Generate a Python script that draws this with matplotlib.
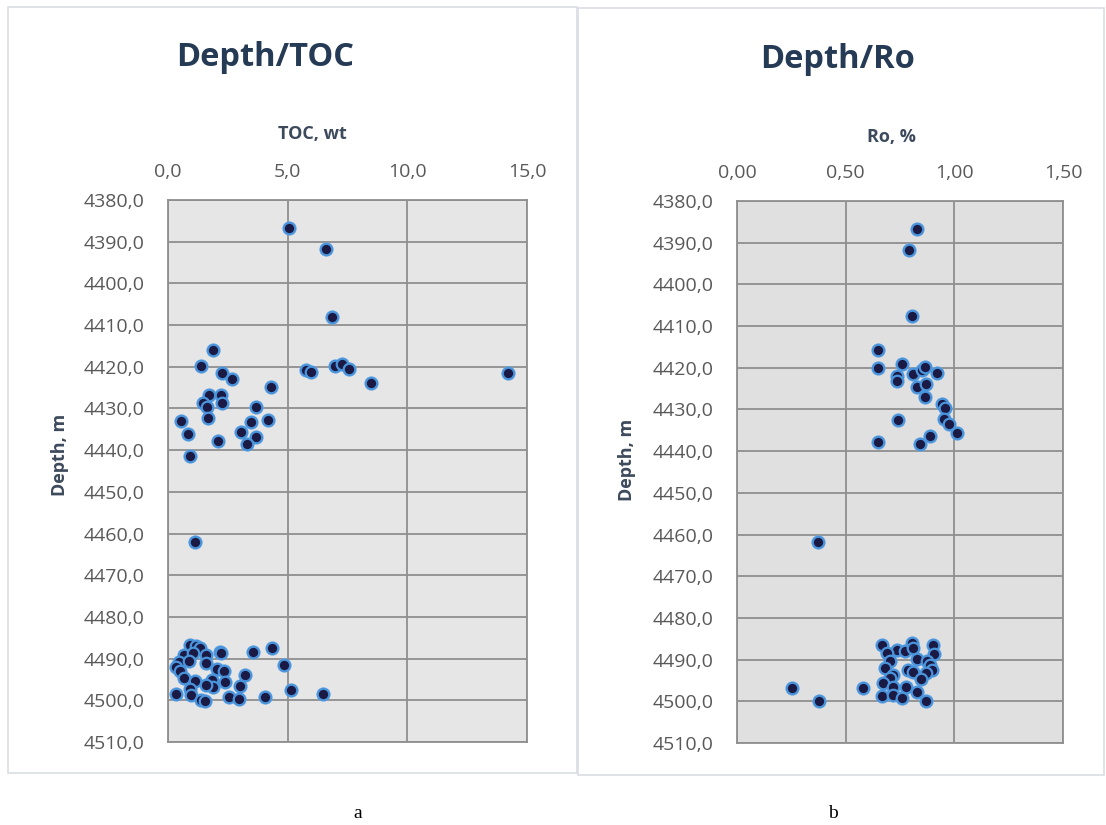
import matplotlib
matplotlib.use("Agg")
import matplotlib.pyplot as plt
from matplotlib.patches import Rectangle
from matplotlib.ticker import FuncFormatter, MultipleLocator

# ---- data ----
toc_values = [5.04, 6.60, 6.87, 1.88, 1.39, 2.24, 2.67, 4.29, 5.78, 5.96, 6.96, 7.28, 7.56, 8.47, 14.2,
              1.71, 2.20, 1.46, 1.63, 2.26, 3.69, 1.67, 0.53, 4.18, 3.48, 0.82, 3.04, 3.66, 2.09, 3.32,
              0.92, 1.12,
              0.93, 1.16, 1.32, 2.16, 2.20, 3.55, 4.36, 0.66, 1.05, 1.60, 0.45, 0.88, 1.57, 4.83, 0.35,
              0.52, 2.05, 2.33, 3.20, 0.66, 1.12, 1.85, 2.37, 3.00, 1.88, 0.93, 1.60, 5.15, 6.47, 0.35,
              0.98, 2.55, 2.95, 4.04, 1.39, 1.56]
toc_depth = [4386.8, 4391.8, 4408.0, 4416.0, 4419.8, 4421.6, 4423.0, 4424.8, 4420.8, 4421.2, 4419.8,
             4419.3, 4420.5, 4423.8, 4421.4,
             4426.8, 4426.8, 4428.8, 4429.7, 4428.8, 4429.7, 4432.4, 4433.0, 4432.8, 4433.3, 4436.1,
             4435.7, 4436.8, 4437.8, 4438.5,
             4441.4, 4462.0,
             4486.7, 4486.9, 4487.5, 4488.3, 4488.7, 4488.3, 4487.4, 4489.1, 4488.7, 4489.1, 4490.7,
             4490.5, 4491.1, 4491.5, 4491.9, 4492.9, 4492.5, 4492.9, 4493.9, 4494.7, 4495.3, 4495.1,
             4495.5, 4496.5, 4496.9, 4497.3, 4496.3, 4497.5, 4498.5, 4498.5, 4498.7, 4499.1, 4499.7,
             4499.1, 4500.0, 4500.2]

ro_values = [0.829, 0.792, 0.807, 0.649, 0.649, 0.757, 0.737, 0.737, 0.810, 0.849, 0.867, 0.921,
             0.826, 0.869, 0.867, 0.941, 0.959, 0.951, 0.974, 1.010, 0.739, 0.887, 0.841, 0.649,
             0.373,
             0.254, 0.378, 0.578, 0.668, 0.734, 0.772, 0.807, 0.810, 0.902, 0.906, 0.689, 0.704,
             0.826, 0.872, 0.887, 0.895, 0.681, 0.788, 0.808, 0.869, 0.719, 0.704, 0.846, 0.673,
             0.719, 0.776, 0.826, 0.668, 0.716, 0.757, 0.869]
ro_depth = [4386.8, 4391.8, 4407.6, 4415.8, 4420.0, 4419.0, 4422.0, 4423.2, 4421.4, 4420.6, 4419.8,
            4421.2, 4424.6, 4424.0, 4427.0, 4428.6, 4429.6, 4432.2, 4433.4, 4435.6, 4432.6, 4436.4,
            4438.4, 4437.7,
            4461.9,
            4496.7, 4500.0, 4496.7, 4486.4, 4487.6, 4488.0, 4486.1, 4487.1, 4486.5, 4488.7, 4488.3,
            4490.4, 4489.9, 4490.4, 4491.2, 4492.4, 4492.0, 4492.4, 4493.0, 4493.1, 4493.6, 4494.4,
            4494.7, 4495.5, 4496.5, 4496.5, 4497.8, 4498.7, 4498.5, 4499.1, 4500.0]

titles = ["Depth/TOC", "Depth/Ro"]
xlabels = ["TOC, wt", "Ro, %"]
ylabel = "Depth, m"
captions = ["a", "b"]

W, H = 1106, 825
fig = plt.figure(figsize=(W / 100, H / 100), dpi=100)
fig.patch.set_facecolor("white")

def fx(px):
    return px / W

def fy(py):
    return 1 - py / H

# panel borders
for (x0, y0, x1, y1) in [(8, 7, 577, 773), (578, 8, 1104, 775)]:
    fig.patches.append(Rectangle((fx(x0), fy(y1)), fx(x1 - x0), (y1 - y0) / H,
                                 transform=fig.transFigure, fill=False,
                                 edgecolor="#d9dde3", linewidth=1.2))

FONT = "Open Sans"
tick_color = "#595959"
label_color = "#3c4a5c"
title_color = "#253a55"
grid_color = "#8f8f8f"

def make_axes(rect_px, xvals, yvals, xmax, xstep, xfmt, bg):
    x0, y0, x1, y1 = rect_px
    ax = fig.add_axes([fx(x0), fy(y1), fx(x1 - x0), (y1 - y0) / H])
    ax.set_facecolor(bg)
    # soft halo + dark core
    ax.plot(xvals, yvals, linestyle="none", marker="o", markersize=10.5,
            markerfacecolor="#7fb6ea", markeredgecolor="none", alpha=0.55,
            zorder=3, clip_on=False)
    ax.plot(xvals, yvals, linestyle="none", marker="o", markersize=8.3,
            markerfacecolor="#1b1a45", markeredgecolor="#4a94dc", markeredgewidth=1.6,
            zorder=4, clip_on=False)
    ax.set_xlim(0, xmax)
    ax.set_ylim(4510, 4380)
    ax.xaxis.set_major_locator(MultipleLocator(xstep))
    ax.yaxis.set_major_locator(MultipleLocator(10))
    ax.xaxis.set_major_formatter(FuncFormatter(lambda v, p: xfmt.format(v).replace(".", ",")))
    ax.yaxis.set_major_formatter(FuncFormatter(lambda v, p: "{:.1f}".format(v).replace(".", ",")))
    ax.xaxis.tick_top()
    ax.tick_params(axis="both", length=0, labelsize=14, colors=tick_color)
    ax.tick_params(axis="x", pad=14)
    ax.tick_params(axis="y", pad=17)
    for lab in ax.get_xticklabels() + ax.get_yticklabels():
        lab.set_fontfamily(FONT)
    ax.grid(True, color=grid_color, linewidth=1.3)
    ax.set_axisbelow(True)
    for s in ax.spines.values():
        s.set_color(grid_color)
        s.set_linewidth(1.3)
    return ax

ax1 = make_axes((168, 200, 527, 742), toc_values, toc_depth, 15, 5, "{:.1f}", "#e6e6e6")
ax2 = make_axes((737, 201, 1063, 743), ro_values, ro_depth, 1.5, 0.5, "{:.2f}", "#e0e0e0")

# titles and labels
fig.text(fx(265), fy(57), titles[0], ha="center", va="center", fontsize=23.5,
         fontweight="bold", color=title_color, family=FONT)
fig.text(fx(838), fy(59), titles[1], ha="center", va="center", fontsize=23.5,
         fontweight="bold", color=title_color, family=FONT)
fig.text(fx(312), fy(134), xlabels[0], ha="center", va="center", fontsize=13,
         fontweight="bold", color=label_color, family=FONT)
fig.text(fx(891), fy(137), xlabels[1], ha="center", va="center", fontsize=13,
         fontweight="bold", color=label_color, family=FONT)
fig.text(fx(60), fy(455), ylabel, ha="center", va="center", rotation=90, fontsize=13,
         fontweight="bold", color=label_color, family=FONT)
fig.text(fx(627), fy(460), ylabel, ha="center", va="center", rotation=90, fontsize=13,
         fontweight="bold", color=label_color, family=FONT)
fig.text(fx(358), fy(813), captions[0], ha="center", va="center", fontsize=14,
         color="black", family="Liberation Serif")
fig.text(fx(833), fy(813), captions[1], ha="center", va="center", fontsize=14,
         color="black", family="Liberation Serif")

fig.savefig("out.png", dpi=100, facecolor="white")
